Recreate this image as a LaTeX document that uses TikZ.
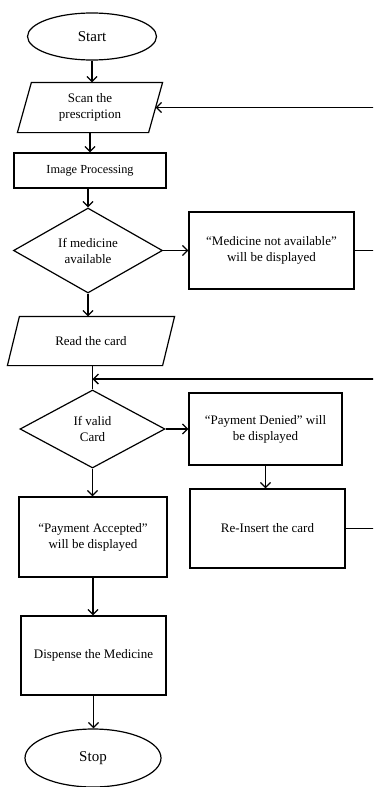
\documentclass[tikz,border=0pt]{standalone}
\usepackage{fontspec}
\setmainfont{Liberation Serif}
\usetikzlibrary{shapes.geometric,arrows.meta,calc}
\begin{document}
\begin{tikzpicture}[x=1pt,y=-1pt,
  every node/.style={font=\fontsize{13}{16}\selectfont, align=center, line width=1.2pt},
  term/.style={ellipse, draw, inner sep=0pt, font=\fontsize{15}{18}\selectfont},
  proc/.style={rectangle, draw, inner sep=0pt},
  dec/.style={diamond, draw, inner sep=0pt, aspect=2},
  para/.style={rectangle, draw=none, inner sep=0pt},
  arr/.style={line width=1.3pt, -{Straight Barb[length=5pt,width=10pt,line width=1.3pt]}},
  ln/.style={line width=1.3pt}]
\useasboundingbox (0,0) rectangle (373,787);
\fill[white] (0,0) rectangle (373,787);
\clip (0,0) rectangle (373,787);

\node[term, minimum width=129pt, minimum height=47pt] (start) at (92,36.5) {Start};
\node[para, minimum width=130pt, minimum height=49pt] (scan) at (90,107.5) {Scan the\\prescription};
\draw[line width=1.2pt] ($(scan.south west)+(-7,0)$) -- ($(scan.south east)+(-7,0)$) -- ($(scan.north east)+(7,0)$) -- ($(scan.north west)+(7,0)$) -- cycle;
\node[proc, minimum width=152pt, minimum height=35pt, font=\fontsize{12.3}{15}\selectfont] (img) at (90,170.5) {Image Processing};
\node[dec, minimum width=149pt, minimum height=85pt] (dec1) at (88,250.5) {If medicine\\available};
\node[proc, minimum width=165pt, minimum height=77pt] (mna) at (271.5,250.5) {``Medicine not available''\\will be displayed};
\node[para, minimum width=154pt, minimum height=48pt] (read) at (91,341) {Read the card};
\draw[line width=1.2pt] ($(read.south west)+(-6,0)$) -- ($(read.south east)+(-6,0)$) -- ($(read.north east)+(6,0)$) -- ($(read.north west)+(6,0)$) -- cycle;
\node[dec, minimum width=145pt, minimum height=78pt] (dec2) at (92.5,429) {If valid\\Card};
\node[proc, minimum width=153pt, minimum height=72pt] (pd) at (265.5,429) {``Payment Denied'' will\\be displayed};
\node[proc, minimum width=155pt, minimum height=79pt] (ri) at (267.5,528.5) {Re-Insert the card};
\node[proc, minimum width=148pt, minimum height=80pt] (pa) at (93,537) {``Payment Accepted''\\will be displayed};
\node[proc, minimum width=145pt, minimum height=79pt] (disp) at (93.5,655.5) {Dispense the Medicine};
\node[term, minimum width=136pt, minimum height=58pt] (stop) at (93,758) {Stop};

\coordinate (loopA) at (385,250.5);
\coordinate (loopB) at (385,528.5);
\coordinate (join) at (92.5,379);

\draw[arr] (start.south) -- (start.south |- scan.north);
\draw[arr] (scan.south) -- (scan.south |- img.north);
\draw[arr] (dec1 |- img.south) -- (dec1.north);
\draw[arr] (dec1.east) -- (mna.west);
\draw[ln] (mna.east) -- (loopA);
\draw[arr] (loopA) |- (scan.east);
\draw[arr] (dec1.south) -- (dec1.south |- read.north);
\draw[ln] (dec2 |- read.south) -- (dec2.north);
\draw[arr] (dec2.east) -- (pd.west);
\draw[arr] (pd.south) -- (pd.south |- ri.north);
\draw[ln] (ri.east) -- (loopB);
\draw[arr] (loopB) |- (join);
\draw[arr] (dec2.south) -- (dec2.south |- pa.north);
\draw[arr] (pa.south) -- (pa.south |- disp.north);
\draw[arr] (disp.south) -- (disp.south |- stop.north);
\end{tikzpicture}
\end{document}
